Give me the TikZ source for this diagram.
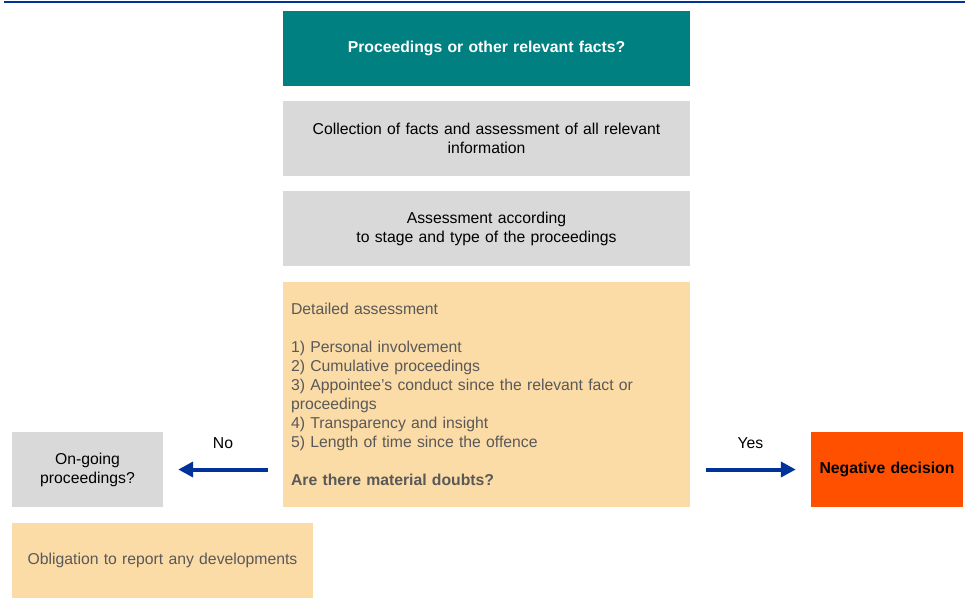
\documentclass[tikz,border=0pt]{standalone}
\usepackage{fontspec}
\setmainfont{Liberation Sans}
\usepackage{tikz}
\usetikzlibrary{arrows.meta,%
	positioning}
\definecolor{tealbox}{RGB}{0,128,128}
\definecolor{greybox}{RGB}{217,217,217}
\definecolor{sandbox}{RGB}{251,219,166}
\definecolor{redbox}{RGB}{255,80,0}
\definecolor{navyline}{RGB}{0,51,153}
\definecolor{darktext}{RGB}{89,89,89}

\begin{document}
\begin{tikzpicture}[x=1pt, y=-1pt, font=\fontsize{15.75}{19}\selectfont, box/.style = {rectangle, inner sep=8pt, align=center, minimum height=75pt}, wide/.style = {box, minimum width=407pt, text width=391pt}, arrow/.style = {navyline, line width=4pt, -{Triangle[length=15pt, width=15pt]}}, answer/.style = {midway, yshift=26pt, text=black}]
	\useasboundingbox (0,0) rectangle (965,608);
	\draw[navyline, line width=2pt] (4,2) -- (965,2);
	\node[wide, fill=tealbox, text=white, font=\fontsize{15.75}{19}\selectfont\bfseries] (facts) at (486.5,48.5) {Proceedings or other relevant facts?};
	\node[wide, fill=greybox] (collect) at (486.5,138.5) {Collection of facts and assessment of all relevant\\information};
	\node[wide, fill=greybox] (stage) at (486.5,228.5) {Assessment according\\to stage and type of the proceedings};
	\node[wide, fill=sandbox, text=darktext, align=left, minimum height=225pt] (detail) at (486.5,394.5) {Detailed assessment\\[19pt]
		1) Personal involvement\\
		2) Cumulative proceedings\\
		3) Appointee’s conduct since the relevant fact or\\
		proceedings\\
		4) Transparency and insight\\
		5) Length of time since the offence\\[19pt]
		\textbf{Are there material doubts?}};
	\node[box, fill=greybox, minimum width=151pt, text width=135pt] (ongoing) at (87.5,469.5) {On-going\\proceedings?};
	\node[box, fill=sandbox, text=darktext, minimum width=301pt, text width=285pt] (report) at (162.5,560.5) {Obligation to report any developments};
	\node[box, fill=redbox, minimum width=152pt, text width=136pt, font=\fontsize{15.75}{19}\selectfont\bfseries] (negative) at (887,469.5) {Negative decision};
	\draw[arrow, shorten <=15pt, shorten >=15pt] (detail.west |- ongoing) -- (ongoing.east) node[answer] {No};
	\draw[arrow, shorten <=16pt, shorten >=15pt] (detail.east |- negative) -- (negative.west) node[answer] {Yes};
\end{tikzpicture}
\end{document}
